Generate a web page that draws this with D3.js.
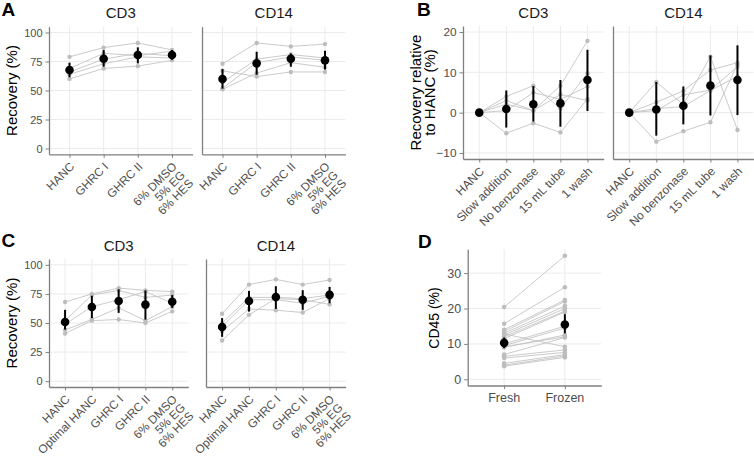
<!DOCTYPE html>
<html><head><meta charset="utf-8">
<script src="https://cdn.jsdelivr.net/npm/d3@7"></script>
<style>body{margin:0;background:#fff}svg{display:block;font-family:"Liberation Sans",Arial,Helvetica,sans-serif}</style>
</head><body>
<script>
// ---------------- DATA ----------------
const catsA = ["HANC", "GHRC I", "GHRC II", "6% DMSO\n5% EG\n6% HES"];
const aCD3Donors = [[79, 87, 91, 85], [69, 82, 80, 84], [66, 77, 82, 80], [64, 73, 79, 78], [60, 69, 71, 76]];
const aCD3Mean = [67.7, 77.4, 80.6, 80.6];
const aCD3Lo = [61.4, 70.5, 73.4, 76.5];
const aCD3Hi = [74.0, 85.0, 87.2, 85.0];
const aCD14Donors = [[73, 91, 88, 90], [67, 62, 66, 66], [57, 77, 81, 78], [52, 74, 79, 76], [51, 65, 74, 70]];
const aCD14Mean = [59.9, 73.4, 77.4, 76.0];
const aCD14Lo = [51.6, 63.6, 70.5, 68.2];
const aCD14Hi = [68.5, 83.4, 82.0, 84.3];

const catsB = ["HANC", "Slow addition", "No benzonase", "15 mL tube", "1 wash"];
const bCD3Donors = [[0, 4.0, 6.7, 1.0, 9.8], [0, 2.1, 0.5, 6.7, 17.8], [0, 0.5, 5.0, 3.3, 6.5], [0, -5.1, -2.6, -4.9, 3.4], [0, 3.0, 0.5, 4.5, 3.0]];
const bCD3Mean = [0, 0.9, 2.1, 2.3, 8.1];
const bCD3Lo = [0, -3.7, -2.2, -3.5, 0.4];
const bCD3Hi = [0, 5.5, 6.6, 8.1, 15.6];
const bCD14Donors = [[0, 7.6, 2.0, 13.9, -4.3], [0, 2.6, 5.4, 10.6, 12.4], [0, 0.5, 4.4, 5.6, 11.4], [0, -7.2, -4.6, -2.4, 12.0], [0, 1.0, 1.5, 5.5, 9.0]];
const bCD14Mean = [0, 0.8, 1.7, 6.7, 8.1];
const bCD14Lo = [0, -5.7, -2.9, -0.7, -0.6];
const bCD14Hi = [0, 7.6, 6.5, 14.2, 16.7];

const catsC = ["HANC", "Optimal HANC", "GHRC I", "GHRC II", "6% DMSO\n5% EG\n6% HES"];
const cCD3Donors = [[68, 75, 80, 78, 77], [52, 74, 78, 72, 74], [49, 64, 70, 77, 67], [44, 53, 63, 52, 64], [41, 52, 53, 50, 60]];
const cCD3Mean = [50.8, 63.8, 68.9, 65.8, 68.3];
const cCD3Lo = [44.3, 54.2, 58.7, 53.0, 63.0];
const cCD3Hi = [61.3, 73.4, 79.0, 78.0, 74.0];
const cCD14Donors = [[58, 83, 87.5, 83, 87], [50, 72, 72, 71, 74], [47, 70, 70, 67, 73], [43, 62, 61, 59, 71], [35, 57, 71, 70, 66]];
const cCD14Mean = [46.6, 68.9, 72.3, 70.0, 74.2];
const cCD14Lo = [38.1, 59.8, 62.1, 61.3, 67.0];
const cCD14Hi = [54.2, 77.6, 81.6, 78.2, 81.0];

const catsD = ["Fresh", "Frozen"];
const dFresh  = [20.4, 15.7, 14.0, 13.5, 13.0, 12.5, 12.0, 11.5, 10.0, 9.5, 9.0, 12.8, 9.2, 7.0, 6.5, 6.0, 4.5, 4.0, 3.7];
const dFrozen = [34.9, 26.0, 22.4, 22.0, 20.7, 20.0, 19.3, 19.0, 15.0, 14.5, 12.5, 9.2, 12.0, 11.8, 8.3, 7.6, 7.0, 6.6, 6.2];
const dMean = [10.3, 15.5];
const dLo = [8.8, 13.0];
const dHi = [11.8, 18.4];

const ticksRecovery = [0, 25, 50, 75, 100];
const ticksRelative = [-10, 0, 10, 20];
const ticksCD45 = [0, 10, 20, 30];

// ---------------- DRAWING ----------------
const svg = d3.select("body").append("svg").attr("width", 754).attr("height", 456);
const AXIS = "#7f7f7f", GRID = "#ebebeb", TICKTXT = "#4d4d4d";

function facet(cfg) {
  const x = d3.scalePoint().domain(cfg.cats).range([cfg.x0, cfg.x1]).padding(0.6);
  const y = d3.scaleLinear().domain(cfg.ydom).range([cfg.y1, cfg.y0]);
  const g = svg.append("g");
  g.selectAll("line.gy").data(cfg.yticks).join("line").attr("class", "gy")
    .attr("x1", cfg.x0).attr("x2", cfg.x1).attr("y1", d => y(d)).attr("y2", d => y(d))
    .attr("stroke", GRID).attr("stroke-width", 1);
  g.selectAll("line.gx").data(cfg.cats).join("line").attr("class", "gx")
    .attr("x1", d => x(d)).attr("x2", d => x(d)).attr("y1", cfg.y0).attr("y2", cfg.y1)
    .attr("stroke", GRID).attr("stroke-width", 1);
  const line = d3.line().x((d, i) => x(cfg.cats[i])).y(d => y(d));
  g.selectAll("path.dl").data(cfg.donors).join("path").attr("class", "dl")
    .attr("d", line).attr("fill", "none").attr("stroke", "#c4c4c4").attr("stroke-width", 0.9);
  const pts = [];
  cfg.donors.forEach(row => row.forEach((v, i) => pts.push({c: cfg.cats[i], v})));
  g.selectAll("circle.dp").data(pts).join("circle").attr("class", "dp")
    .attr("cx", d => x(d.c)).attr("cy", d => y(d.v)).attr("r", cfg.pr || 2.2).attr("fill", "#bdbdbd");
  g.selectAll("line.eb").data(cfg.cats).join("line").attr("class", "eb")
    .attr("x1", d => x(d)).attr("x2", d => x(d))
    .attr("y1", (d, i) => y(cfg.lo[i])).attr("y2", (d, i) => y(cfg.hi[i]))
    .attr("stroke", "#000").attr("stroke-width", 2);
  g.selectAll("circle.mp").data(cfg.cats).join("circle").attr("class", "mp")
    .attr("cx", d => x(d)).attr("cy", (d, i) => y(cfg.mean[i])).attr("r", 4.3).attr("fill", "#000");
  const ya = g.append("g").attr("transform", `translate(${cfg.x0},0)`)
    .call(d3.axisLeft(y).tickValues(cfg.showY ? cfg.yticks : []).tickSize(3.5).tickSizeOuter(0).tickPadding(3));
  const xa = g.append("g").attr("transform", `translate(0,${cfg.y1})`)
    .call(d3.axisBottom(x).tickSize(3.5).tickSizeOuter(0).tickFormat(""));
  [ya, xa].forEach(a => {
    a.select(".domain").attr("stroke", AXIS).attr("stroke-width", 1.3);
    a.selectAll(".tick line").attr("stroke", AXIS).attr("stroke-width", 1);
    a.selectAll(".tick text").attr("fill", TICKTXT).attr("font-size", cfg.tickFont)
      .attr("font-family", "Liberation Sans, Arial, sans-serif");
  });
  if (cfg.rotate) {
    cfg.cats.forEach(c => {
      const t = g.append("text")
        .attr("transform", `translate(${x(c) - 0.5},${cfg.y1 + 7})  rotate(-45)`)
        .attr("text-anchor", "end").attr("fill", TICKTXT).attr("font-size", cfg.xFont);
      c.split("\n").forEach((s, i) => t.append("tspan").attr("x", 0).attr("dy", i === 0 ? "0.72em" : "1.0em").text(s));
    });
  } else {
    cfg.cats.forEach(c => g.append("text").attr("x", x(c)).attr("y", cfg.y1 + 16.5)
      .attr("text-anchor", "middle").attr("fill", TICKTXT).attr("font-size", cfg.xFont).text(c));
  }
  if (cfg.strip) {
    g.append("text").attr("x", (cfg.x0 + cfg.x1) / 2).attr("y", cfg.stripY)
      .attr("text-anchor", "middle").attr("fill", "#1a1a1a").attr("font-size", 15).text(cfg.strip);
  }
}

// Panel A
facet({cats: catsA, donors: aCD3Donors, mean: aCD3Mean, lo: aCD3Lo, hi: aCD3Hi, x0: 49, x1: 192.5, y0: 26.7, y1: 154.3,
  ydom: [-5, 105], yticks: ticksRecovery, showY: true, tickFont: 11, xFont: 11.8, rotate: true, strip: "CD3", stripY: 18.3});
facet({cats: catsA, donors: aCD14Donors, mean: aCD14Mean, lo: aCD14Lo, hi: aCD14Hi, x0: 202, x1: 345.5, y0: 26.7, y1: 154.3,
  ydom: [-5, 105], yticks: ticksRecovery, showY: false, tickFont: 11, xFont: 11.8, rotate: true, strip: "CD14", stripY: 18.3});
// Panel B
facet({cats: catsB, donors: bCD3Donors, mean: bCD3Mean, lo: bCD3Lo, hi: bCD3Hi, x0: 463, x1: 603.7, y0: 26, y1: 159,
  ydom: [-11.5, 21.5], yticks: ticksRelative, showY: true, tickFont: 11.8, xFont: 12, rotate: true, strip: "CD3", stripY: 18.3});
facet({cats: catsB, donors: bCD14Donors, mean: bCD14Mean, lo: bCD14Lo, hi: bCD14Hi, x0: 613, x1: 753.7, y0: 26, y1: 159,
  ydom: [-11.5, 21.5], yticks: ticksRelative, showY: false, tickFont: 11.8, xFont: 12, rotate: true, strip: "CD14", stripY: 18.3});
// Panel C
facet({cats: catsC, donors: cCD3Donors, mean: cCD3Mean, lo: cCD3Lo, hi: cCD3Hi, x0: 49, x1: 188.3, y0: 259, y1: 387,
  ydom: [-5, 105], yticks: ticksRecovery, showY: true, tickFont: 11, xFont: 11.8, rotate: true, strip: "CD3", stripY: 251});
facet({cats: catsC, donors: cCD14Donors, mean: cCD14Mean, lo: cCD14Lo, hi: cCD14Hi, x0: 206, x1: 345.7, y0: 259, y1: 387,
  ydom: [-5, 105], yticks: ticksRecovery, showY: false, tickFont: 11, xFont: 11.8, rotate: true, strip: "CD14", stripY: 251});
// Panel D
facet({cats: catsD, donors: dFresh.map((v, i) => [v, dFrozen[i]]), mean: dMean, lo: dLo, hi: dHi, x0: 467.7, x1: 601.3, y0: 249.2, y1: 385.5,
  ydom: [-1.75, 36.75], yticks: ticksCD45, showY: true, tickFont: 12.5, xFont: 12.5, rotate: false, pr: 2.3});

function vtitle(x, y, lines, size) {
  const t = svg.append("text").attr("transform", `translate(${x},${y}) rotate(-90)`)
    .attr("text-anchor", "middle").attr("font-size", size).attr("fill", "#000");
  lines.forEach((s, i) => t.append("tspan").attr("x", 0).attr("dy", i === 0 ? 0 : size * 0.9).text(s));
}
vtitle(16.5, 90.5, ["Recovery (%)"], 15);
vtitle(421, 92.5, ["Recovery relative", "to HANC (%)"], 15);
vtitle(16.5, 323, ["Recovery (%)"], 15);
vtitle(439, 318, ["CD45 (%)"], 14);

[["A", 1.5, 16], ["B", 417, 16], ["C", 1.5, 247], ["D", 418, 248]].forEach(([s, x, y]) =>
  svg.append("text").attr("x", x).attr("y", y).attr("font-size", 19).attr("font-weight", "bold").attr("fill", "#000").text(s));
</script>
</body></html>
